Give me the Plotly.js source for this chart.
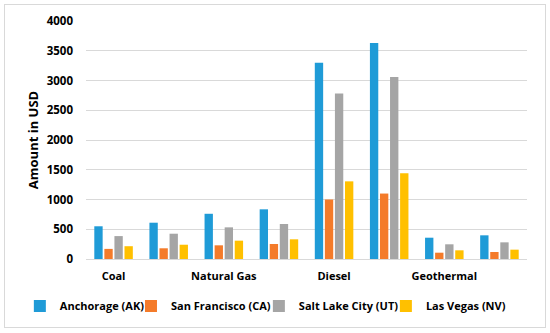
<!DOCTYPE html>
<html>
<head>
<meta charset="utf-8">
<script src="https://cdn.plot.ly/plotly-3.0.1.min.js"></script>
<style>
  html, body { margin: 0; padding: 0; background: #fff; }
  #frame { position: absolute; left: 4px; top: 4px; width: 540px; height: 322px; border: 1px solid #d9d9d9; }
  #chart { width: 540px; height: 322px; }
</style>
</head>
<body>
<div id="frame"><div id="chart"></div></div>
<script>
const categories = ["Coal", "", "Natural Gas", "", "Diesel", "", "Geothermal", ""];
const seriesNames = ["Anchorage (AK)", "San Francisco (CA)", "Salt Lake City (UT)", "Las Vegas (NV)"];
const anchorage    = [550, 610, 760, 835, 3300, 3630, 358, 398];
const sanFrancisco = [170, 180, 230, 252, 1000, 1100, 106, 118];
const saltLakeCity = [385, 425, 532, 588, 2780, 3058, 247, 280];
const lasVegas     = [215, 240, 308, 331, 1305, 1440, 146, 157];
const yTicks = [0, 500, 1000, 1500, 2000, 2500, 3000, 3500, 4000];

const colors = ["#1f9bd7", "#f47b2a", "#a5a5a5", "#ffc000"];
const seriesValues = [anchorage, sanFrancisco, saltLakeCity, lasVegas];
const xPos = categories.map((c, i) => i);
const tickIdx = categories.map((c, i) => i).filter(i => categories[i] !== "");

const font = "'Open Sans', sans-serif";
const bold = (s) => "<b>" + s + "</b>";
const legendIds = ["legend", "legend2", "legend3", "legend4"];
const legendX = [-0.150, 0.102, 0.392, 0.680];

const data = seriesValues.map((vals, k) => ({
  type: "bar",
  name: bold(seriesNames[k]),
  x: xPos,
  y: vals,
  legend: legendIds[k],
  marker: { color: colors[k] },
  hoverinfo: "y+name"
}));

const legendBase = (x) => ({
  orientation: "h",
  x: x, xanchor: "left",
  y: -0.197, yanchor: "middle",
  font: { family: font, size: 11, color: "#000" },
  itemwidth: 30,
  bgcolor: "rgba(0,0,0,0)"
});

const layout = {
  width: 540, height: 322,
  margin: { l: 81, r: 18, t: 16, b: 68, autoexpand: false },
  paper_bgcolor: "#ffffff",
  plot_bgcolor: "#ffffff",
  barmode: "group",
  bargap: 0.27,
  bargroupgap: 0.17,
  font: { family: font, size: 11, color: "#000" },
  xaxis: {
    range: [-0.5, 7.5],
    tickvals: tickIdx,
    ticktext: tickIdx.map(i => bold(categories[i])),
    showgrid: false,
    zeroline: false,
    showline: false,
    ticks: "",
    ticklabelstandoff: 9,
    tickfont: { family: font, size: 11, color: "#000" }
  },
  yaxis: {
    range: [0, 4000],
    tickvals: yTicks,
    ticktext: yTicks.map(v => bold(String(v))),
    showgrid: true,
    gridcolor: "#d9d9d9",
    gridwidth: 1,
    zeroline: true,
    zerolinecolor: "#d9d9d9",
    zerolinewidth: 1,
    ticks: "",
    ticklabelstandoff: 12,
    tickfont: { family: font, size: 11.5, color: "#000" },
    title: { text: bold("Amount in USD"), standoff: 5, font: { family: font, size: 13, color: "#000" } }
  },
  legend: legendBase(legendX[0]),
  legend2: legendBase(legendX[1]),
  legend3: legendBase(legendX[2]),
  legend4: legendBase(legendX[3]),
  showlegend: true
};

Plotly.newPlot("chart", data, layout, { displayModeBar: false, staticPlot: true });
</script>
</body>
</html>
